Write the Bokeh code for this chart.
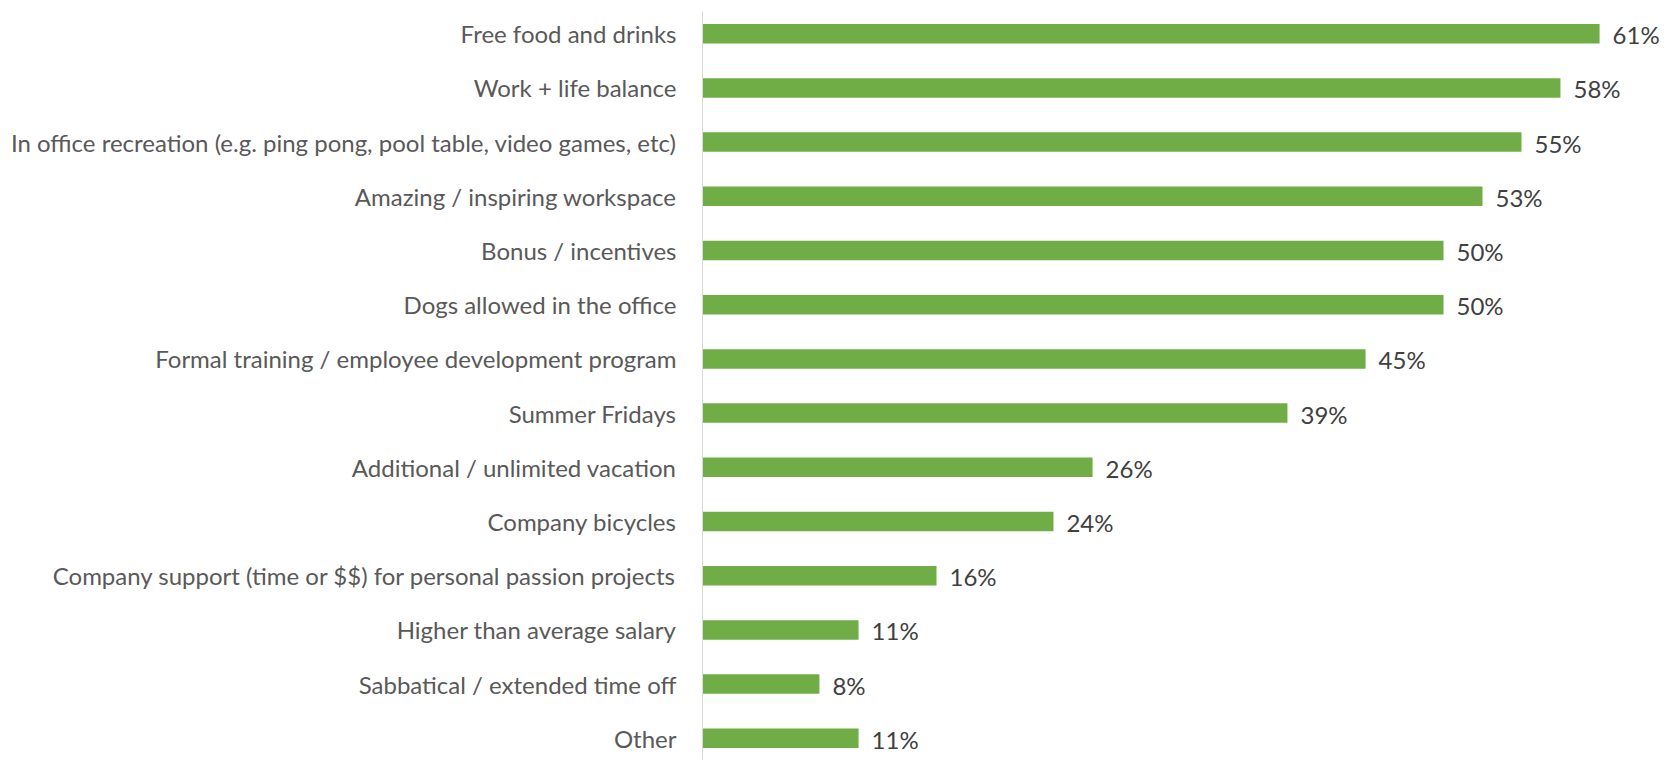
from bokeh.plotting import figure
from bokeh.models import ColumnDataSource, Range1d, FactorRange
from bokeh.core.properties import value
from bokeh.embed import file_html
from bokeh.resources import INLINE

categories = [
    "Free food and drinks",
    "Work + life balance",
    "In office recreation (e.g. ping pong, pool table, video games, etc)",
    "Amazing / inspiring workspace",
    "Bonus / incentives",
    "Dogs allowed in the office",
    "Formal training / employee development program",
    "Summer Fridays",
    "Additional / unlimited vacation",
    "Company bicycles",
    "Company support (time or $$) for personal passion projects",
    "Higher than average salary",
    "Sabbatical / extended time off",
    "Other",
]
values = [60.53, 57.89, 55.26, 52.63, 50.00, 50.00, 44.74, 39.47,
          26.32, 23.68, 15.79, 10.53, 7.89, 10.53]
labels = ["{:.0f}%".format(v) for v in values]

FONT = "Lato"
FS = "24px"

src = ColumnDataSource(dict(cat=categories, val=values, lab=labels))

p = figure(
    width=1668, height=760,
    y_range=FactorRange(factors=list(reversed(categories)),
                        range_padding=-0.09, range_padding_units="absolute"),
    x_range=Range1d(0, 65.18),
    output_backend="svg", toolbar_location=None,
    min_border_left=702, min_border_right=0, min_border_top=11, min_border_bottom=0,
)
p.hbar(y="cat", right="val", left=0, height=0.36, source=src,
       fill_color="#70AD47", line_color=None)
p.text(x="val", y="cat", text="lab", source=src, x_offset=13, y_offset=1,
       text_align="left", text_baseline="middle",
       text_font=value(FONT), text_font_size=FS, text_color="#404040")

p.xaxis.visible = False
p.xgrid.visible = False
p.ygrid.visible = False
p.outline_line_color = None

ya = p.yaxis[0]
ya.axis_line_color = "#d9d9d9"
ya.axis_line_width = 1
ya.major_tick_line_color = None
ya.minor_tick_line_color = None
ya.major_label_standoff = 20
ya.major_label_text_font = FONT
ya.major_label_text_font_size = FS
ya.major_label_text_color = "#595959"

open("out.html", "w").write(file_html(p, INLINE))
